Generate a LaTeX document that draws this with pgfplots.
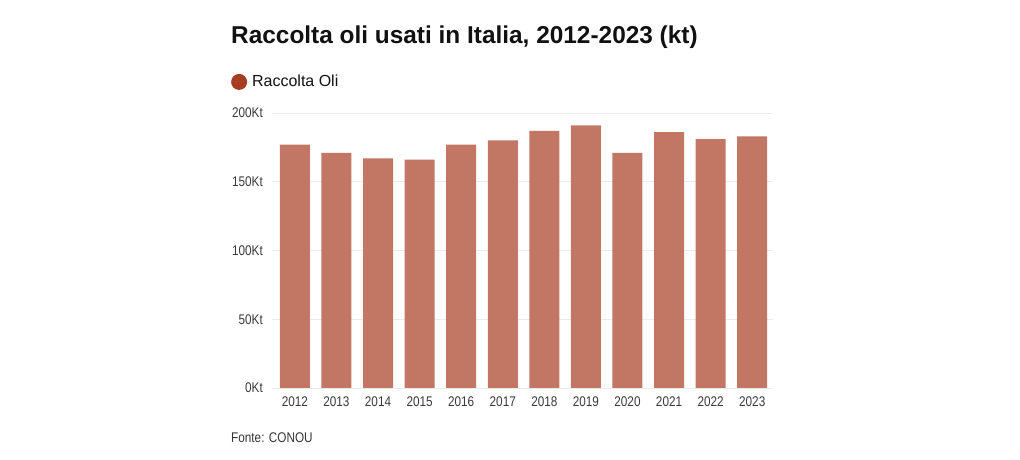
\documentclass[border=0pt]{standalone}
\usepackage{fontspec}
\setmainfont{Liberation Sans}[FakeStretch=0.84]
\newfontfamily\wide{Liberation Sans}
\usepackage{pgfplots}
\pgfplotsset{compat=1.18}
\definecolor{oil}{HTML}{A63D22}
\definecolor{gridc}{HTML}{EBEBEB}
\definecolor{tickc}{HTML}{3A3A3A}
\definecolor{titlec}{HTML}{111111}
\begin{document}
\begin{tikzpicture}[x=1pt,y=1pt]
\path[use as bounding box] (0,0) rectangle (1020,460);
\node[anchor=base west, text=titlec, font=\wide\bfseries\fontsize{24.4}{28}\selectfont, inner sep=0]
  at (231,416.7) {Raccolta oli usati in Italia, 2012-2023 (kt)};
\node[anchor=west, text=titlec!85, font=\fontsize{14}{16}\selectfont, inner sep=0]
  at (231,22) {Fonte: CONOU};
\begin{axis}[
  at={(272pt,72pt)}, anchor=south west,
  scale only axis, width=501pt, height=275pt,
  xmin=-0.55, xmax=11.5, ymin=0, ymax=200,
  xtick={0,...,11},
  xticklabels={2012,2013,2014,2015,2016,2017,2018,2019,2020,2021,2022,2023},
  ytick={0,50,100,150,200},
  yticklabels={0Kt,50Kt,100Kt,150Kt,200Kt},
  axis line style={draw=none},
  major tick length=0pt,
  ymajorgrids, grid style={gridc, line width=0.8pt},
  tick label style={font=\fontsize{14}{16}\selectfont, text=tickc, inner sep=0pt},
  xticklabel shift=9pt, yticklabel shift=9pt,
  ybar, bar width=30pt,
  legend style={at={(-0.082,1.113)}, anchor=west, draw=none, fill=none, inner sep=0pt,
    font=\wide\fontsize{16}{19}\selectfont, text=titlec},
  legend image code/.code={\fill[oil] (8pt,0pt) circle (8pt); \path (0pt,0pt) -- (19pt,0pt);},
]
\addplot[fill=oil!70, draw=none] coordinates {
  (0,177) (1,171) (2,167) (3,166) (4,177) (5,180)
  (6,187) (7,191) (8,171) (9,186) (10,181) (11,183)
};
\addlegendentry{Raccolta Oli}
\end{axis}
\end{tikzpicture}
\end{document}
